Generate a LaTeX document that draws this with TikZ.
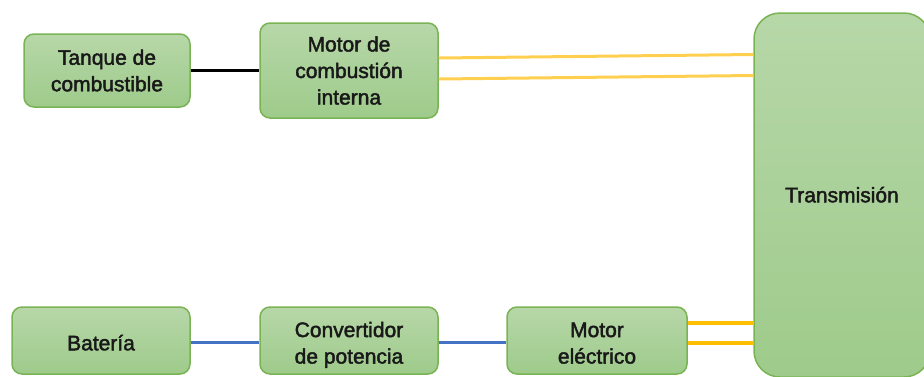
\documentclass[tikz,border=0pt]{standalone}
\usepackage{fontspec}
\setmainfont{Liberation Sans}
\newfontfamily\boxfont{Liberation Sans}[FakeBold=2]
\definecolor{boxtop}{RGB}{183,215,168}
\definecolor{boxbot}{RGB}{158,203,139}
\definecolor{boxline}{RGB}{122,179,84}
\definecolor{txt}{RGB}{25,25,25}
\definecolor{ylite}{RGB}{255,208,80}
\definecolor{ydark}{RGB}{255,190,0}
\definecolor{bline}{RGB}{68,114,196}
\newcommand\lwrtxt[2]{\raisebox{0pt}[\dimexpr\height+#1\relax][\depth]{\begin{tabular}{@{}c@{}}#2\end{tabular}}}
\begin{document}
\begin{tikzpicture}[x=1pt,y=-1pt,
  blk/.style={draw=boxline, line width=1.5pt, rounded corners=10pt,
    top color=boxtop, bottom color=boxbot, align=center,
    inner sep=0pt, text=txt,
    font=\fontsize{21}{26.5}\selectfont\boxfont},
  mech/.style={draw=ylite, line width=3pt},
  mech2/.style={draw=ydark, line width=3.2pt},
  elec/.style={draw=bline, line width=3pt},
  fuel/.style={draw=black, line width=3.2pt}]
\useasboundingbox (0,0) rectangle (924,376);
\clip (0,0) rectangle (924,376);
\node[blk, minimum width=166pt, minimum height=73pt] (tq) at (107,70.5) {Tanque de\\combustible};
\node[blk, minimum width=178pt, minimum height=95pt] (mc) at (349,70.5) {Motor de\\combustión\\interna};
\node[blk, minimum width=178pt, minimum height=67pt] (bt) at (101,340.5) {\lwrtxt{9pt}{Batería}};
\node[blk, minimum width=178pt, minimum height=67pt] (cv) at (349,340.5) {\lwrtxt{9pt}{Convertidor\\de potencia}};
\node[blk, minimum width=180pt, minimum height=67pt] (me) at (597,340.5) {\lwrtxt{9pt}{Motor\\eléctrico}};
\node[blk, rounded corners=26pt, minimum width=176pt, minimum height=364pt] (tr) at (842,195) {\lwrtxt{4pt}{Transmisión}};
\draw[fuel] (tq.east) -- (mc.west);
\draw[mech] ([yshift=12.5pt]mc.east) -- ([yshift=140.5pt]tr.west);
\draw[mech] ([yshift=-8.5pt]mc.east) -- ([yshift=119.5pt]tr.west);
\draw[elec] ([yshift=-1.5pt]bt.east) -- ([yshift=-1.5pt]cv.west);
\draw[elec] ([yshift=-1.5pt]cv.east) -- ([yshift=-1.5pt]me.west);
\draw[mech2] (me.east |- {(0,323)}) -- (tr.west |- {(0,323)});
\draw[mech2] (me.east |- {(0,343)}) -- (tr.west |- {(0,343)});
\end{tikzpicture}
\end{document}
